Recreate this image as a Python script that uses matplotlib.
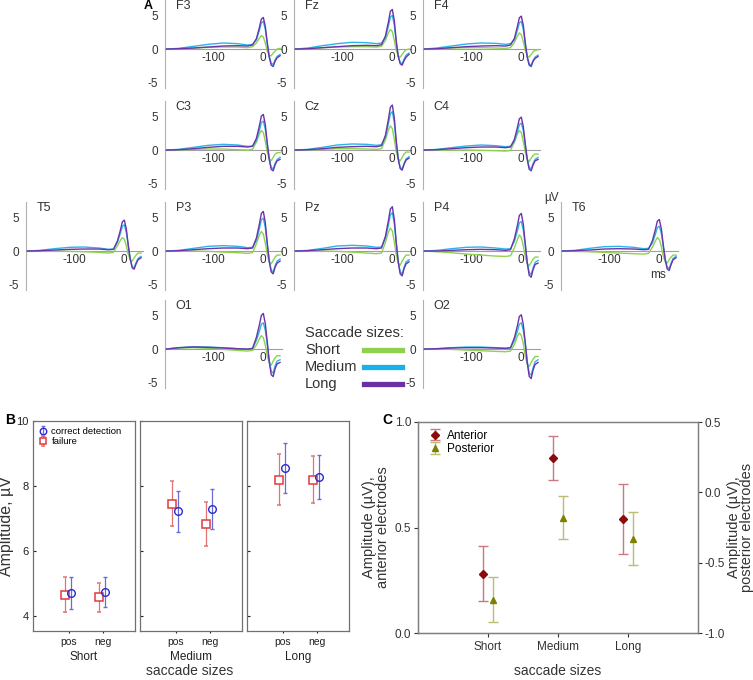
import matplotlib
matplotlib.use('Agg')
import matplotlib.pyplot as plt

plt.rcParams['font.family'] = ['Liberation Sans', 'DejaVu Sans']

# ---------------- Panel A data (µV) ----------------
time_ms = [-195, -170, -140, -110, -80, -50, -30, -20, -12, -6, -2, 2, 6, 10, 14, 18, 22, 26, 30, 36]

F3_short = [0, 0.05, 0.15, 0.25, 0.3, 0.3, 0.2, 0.35, 0.9, 1.6, 2.0, 1.8, 0.9, -0.3, -1.0, -1.0, -0.6, -0.3, 0.0, 0.1]
F3_medium = [0, 0.1, 0.4, 0.7, 0.9, 0.8, 0.6, 0.7, 1.35, 2.8, 3.9, 4.1, 2.95, 0.8, -1.05, -2.1, -2.3, -1.6, -1.1, -0.8]
F3_long = [0, 0.05, 0.15, 0.3, 0.45, 0.5, 0.45, 0.6, 1.55, 3.2, 4.45, 4.7, 3.4, 0.95, -1.2, -2.4, -2.6, -1.8, -1.3, -1.0]

Fz_short = [0, 0.05, 0.2, 0.3, 0.35, 0.35, 0.3, 0.4, 1.3, 2.4, 2.9, 2.6, 1.3, -0.2, -1.0, -1.2, -0.8, -0.4, -0.1, 0.0]
Fz_medium = [0, 0.15, 0.5, 0.8, 1.0, 0.95, 0.8, 0.9, 1.65, 3.4, 4.75, 5.0, 3.6, 1.0, -1.0, -2.0, -2.2, -1.5, -0.9, -0.6]
Fz_long = [0, 0.05, 0.2, 0.35, 0.5, 0.55, 0.5, 0.65, 1.95, 4.0, 5.6, 5.9, 4.25, 1.2, -1.1, -2.2, -2.4, -1.7, -1.2, -0.8]

F4_short = [0, 0.05, 0.15, 0.2, 0.2, 0.15, 0.1, 0.2, 1.0, 1.95, 2.4, 2.15, 1.1, -0.2, -1.0, -1.2, -0.8, -0.4, -0.2, -0.1]
F4_medium = [0, 0.15, 0.45, 0.75, 0.9, 0.85, 0.7, 0.8, 1.35, 2.8, 3.9, 4.1, 2.95, 0.8, -1.1, -2.2, -2.4, -1.7, -1.2, -0.9]
F4_long = [0, 0.05, 0.2, 0.35, 0.45, 0.5, 0.45, 0.6, 1.6, 3.35, 4.65, 4.9, 3.55, 1.0, -1.2, -2.4, -2.6, -1.8, -1.4, -1.1]

C3_short = [0, 0.05, 0.1, 0.15, 0.15, 0.05, 0.0, 0.1, 1.2, 2.4, 2.9, 2.6, 1.3, -0.3, -1.3, -1.6, -1.1, -0.6, -0.4, -0.4]
C3_medium = [0, 0.1, 0.4, 0.7, 0.85, 0.75, 0.55, 0.6, 1.4, 2.9, 4.1, 4.3, 3.1, 0.85, -1.25, -2.6, -2.8, -2.0, -1.4, -1.1]
C3_long = [0, 0.05, 0.2, 0.4, 0.55, 0.55, 0.45, 0.55, 1.75, 3.6, 5.05, 5.3, 3.8, 1.05, -1.4, -2.85, -3.1, -2.2, -1.6, -1.4]

Cz_short = [0, 0.05, 0.1, 0.2, 0.2, 0.15, 0.1, 0.2, 1.5, 3.0, 3.6, 3.2, 1.6, -0.3, -1.3, -1.6, -1.1, -0.6, -0.3, -0.3]
Cz_medium = [0, 0.1, 0.4, 0.75, 0.9, 0.85, 0.7, 0.8, 1.9, 3.9, 5.4, 5.7, 4.1, 1.15, -1.25, -2.6, -2.8, -2.0, -1.3, -1.0]
Cz_long = [0, 0.05, 0.2, 0.4, 0.5, 0.55, 0.5, 0.65, 2.2, 4.55, 6.35, 6.7, 4.8, 1.35, -1.35, -2.75, -3.0, -2.1, -1.5, -1.2]

C4_short = [0, 0.0, 0.0, 0.0, -0.05, -0.1, -0.15, -0.05, 1.2, 2.4, 2.9, 2.6, 1.3, -0.3, -1.4, -1.7, -1.2, -0.8, -0.6, -0.6]
C4_medium = [0, 0.1, 0.35, 0.6, 0.75, 0.65, 0.5, 0.55, 1.3, 2.7, 3.8, 4.0, 2.9, 0.8, -1.25, -2.6, -2.8, -2.0, -1.4, -1.1]
C4_long = [0, 0.05, 0.2, 0.35, 0.45, 0.45, 0.35, 0.45, 1.6, 3.35, 4.65, 4.9, 3.5, 0.95, -1.4, -2.85, -3.1, -2.2, -1.6, -1.4]

T5_short = [0, 0.0, 0.0, -0.05, -0.1, -0.2, -0.3, -0.2, 0.8, 1.6, 2.0, 1.75, 0.8, -0.5, -1.3, -1.5, -1.0, -0.6, -0.3, -0.3]
T5_medium = [0, 0.1, 0.35, 0.55, 0.6, 0.45, 0.25, 0.3, 1.3, 2.65, 3.7, 3.9, 2.8, 0.8, -1.1, -2.3, -2.5, -1.7, -1.1, -0.8]
T5_long = [0, 0.05, 0.15, 0.25, 0.3, 0.3, 0.2, 0.25, 1.5, 3.1, 4.35, 4.6, 3.3, 0.9, -1.2, -2.5, -2.7, -1.9, -1.3, -1.0]

P3_short = [0, 0.0, 0.0, -0.05, -0.15, -0.25, -0.35, -0.25, 1.1, 2.4, 2.9, 2.55, 1.2, -0.5, -1.6, -1.9, -1.4, -0.9, -0.6, -0.6]
P3_medium = [0, 0.1, 0.4, 0.7, 0.8, 0.7, 0.5, 0.55, 1.6, 3.3, 4.65, 4.9, 3.5, 1.0, -1.4, -2.85, -3.1, -2.2, -1.5, -1.2]
P3_long = [0, 0.05, 0.2, 0.35, 0.45, 0.45, 0.35, 0.45, 1.95, 4.0, 5.6, 5.9, 4.25, 1.2, -1.5, -3.1, -3.4, -2.4, -1.8, -1.5]

Pz_short = [0, 0.0, 0.0, -0.05, -0.15, -0.3, -0.4, -0.3, 1.3, 2.8, 3.4, 3.0, 1.4, -0.5, -1.8, -2.1, -1.5, -1.0, -0.6, -0.6]
Pz_medium = [0, 0.1, 0.4, 0.75, 0.85, 0.75, 0.55, 0.6, 1.9, 3.85, 5.4, 5.7, 4.1, 1.15, -1.5, -3.1, -3.4, -2.4, -1.6, -1.3]
Pz_long = [0, 0.05, 0.2, 0.35, 0.45, 0.45, 0.35, 0.45, 2.2, 4.5, 6.25, 6.6, 4.75, 1.3, -1.65, -3.4, -3.7, -2.6, -1.9, -1.6]

P4_short = [0, -0.1, -0.25, -0.45, -0.6, -0.75, -0.8, -0.7, 0.5, 1.7, 2.4, 2.0, 0.8, -0.8, -1.9, -2.2, -1.7, -1.2, -0.9, -0.9]
P4_medium = [0, 0.1, 0.35, 0.55, 0.6, 0.45, 0.3, 0.35, 1.45, 3.0, 4.2, 4.4, 3.15, 0.9, -1.6, -3.2, -3.5, -2.5, -1.7, -1.4]
P4_long = [0, 0.0, 0.1, 0.2, 0.25, 0.2, 0.1, 0.2, 1.85, 3.8, 5.3, 5.6, 4.0, 1.1, -1.75, -3.6, -3.9, -2.75, -2.0, -1.8]

T6_short = [0, -0.05, -0.1, -0.2, -0.3, -0.4, -0.45, -0.35, 0.6, 1.5, 2.0, 1.7, 0.7, -0.7, -1.6, -1.8, -1.3, -0.9, -0.6, -0.6]
T6_medium = [0, 0.1, 0.4, 0.65, 0.7, 0.55, 0.35, 0.4, 1.2, 2.5, 3.5, 3.7, 2.65, 0.75, -1.15, -2.4, -2.6, -1.8, -1.1, -0.8]
T6_long = [0, 0.05, 0.15, 0.3, 0.35, 0.3, 0.2, 0.25, 1.55, 3.2, 4.45, 4.7, 3.35, 0.95, -1.3, -2.65, -2.9, -2.0, -1.3, -1.0]

O1_short = [0, 0.15, 0.2, 0.1, -0.05, -0.2, -0.3, -0.2, 0.6, 1.5, 2.0, 1.7, 0.6, -1.0, -2.1, -2.4, -1.8, -1.3, -1.0, -1.0]
O1_medium = [0, 0.2, 0.35, 0.3, 0.2, 0.05, -0.05, 0.05, 1.3, 2.65, 3.7, 3.9, 2.8, 0.75, -1.65, -3.3, -3.6, -2.5, -1.8, -1.6]
O1_long = [0, 0.2, 0.3, 0.25, 0.15, 0.05, 0.0, 0.1, 1.75, 3.6, 5.0, 5.3, 3.8, 1.05, -1.85, -3.8, -4.1, -2.9, -2.2, -2.0]

O2_short = [0, 0.0, -0.05, -0.15, -0.25, -0.35, -0.4, -0.3, 0.7, 1.9, 2.4, 2.0, 0.8, -1.0, -2.3, -2.6, -2.0, -1.5, -1.1, -1.1]
O2_medium = [0, 0.05, 0.2, 0.3, 0.3, 0.2, 0.1, 0.15, 1.3, 2.65, 3.7, 3.9, 2.8, 0.75, -1.75, -3.6, -3.9, -2.75, -1.9, -1.6]
O2_long = [0, 0.05, 0.15, 0.2, 0.2, 0.15, 0.1, 0.2, 1.7, 3.45, 4.85, 5.1, 3.65, 1.0, -2.0, -4.05, -4.4, -3.1, -2.3, -2.0]

electrodes = ['F3', 'Fz', 'F4', 'C3', 'Cz', 'C4', 'T5', 'P3', 'Pz', 'P4', 'T6', 'O1', 'O2']
size_names = ['Short', 'Medium', 'Long']

# ---------------- Panel B data ----------------
b_sizes = ['Short', 'Medium', 'Long']
b_conditions = ['pos', 'neg']
correct_mean_short = [4.71, 4.74]
correct_err_short = [0.49, 0.47]
failure_mean_short = [4.65, 4.58]
failure_err_short = [0.54, 0.45]
correct_mean_medium = [7.23, 7.29]
correct_err_medium = [0.63, 0.61]
failure_mean_medium = [7.45, 6.83]
failure_err_medium = [0.69, 0.67]
correct_mean_long = [8.55, 8.27]
correct_err_long = [0.78, 0.68]
failure_mean_long = [8.20, 8.20]
failure_err_long = [0.78, 0.72]

# ---------------- Panel C data ----------------
c_sizes = ['Short', 'Medium', 'Long']
anterior_mean = [0.28, 0.83, 0.54]
anterior_err = [0.13, 0.105, 0.165]
posterior_mean = [-0.765, -0.18, -0.33]
posterior_err = [0.16, 0.155, 0.19]

# ---------------- figure ----------------
W, H = 753, 680
fig = plt.figure(figsize=(W / 100, H / 100), dpi=100)


def box(x0, y0, x1, y1):
    return [x0 / W, 1 - y1 / H, (x1 - x0) / W, (y1 - y0) / H]


wave_colors = ['#8fd14f', '#2ab4ea', '#6b34a8']
legend_colors = ['#8fd14f', '#1ab0e8', '#6a2fa0']
txt_gray = '#333333'

col_x = [26, 165, 294, 423, 561]
row_top = [0, 101, 202, 300]
placement = {'F3': (1, 0), 'Fz': (2, 0), 'F4': (3, 0), 'C3': (1, 1), 'Cz': (2, 1), 'C4': (3, 1),
             'T5': (0, 2), 'P3': (1, 2), 'Pz': (2, 2), 'P4': (3, 2), 'T6': (4, 2), 'O1': (1, 3), 'O2': (3, 3)}
g = globals()
for name in electrodes:
    c, r = placement[name]
    ax = fig.add_axes(box(col_x[c], row_top[r], col_x[c] + 117, row_top[r] + 88))
    ax.set_xlim(-198, 40)
    ax.set_ylim(-5.8, 7.3)
    for k, sname in enumerate(size_names):
        vals = g[f'{name}_{sname.lower()}']
        ax.plot(time_ms, vals, color=wave_colors[k], lw=1.0, zorder=3 + k)
    for s in ['top', 'right']:
        ax.spines[s].set_visible(False)
    ax.spines['left'].set_color('#b0b0b0')
    ax.spines['left'].set_linewidth(0.8)
    ax.spines['bottom'].set_position(('data', 0))
    ax.spines['bottom'].set_color('#a0a0a0')
    ax.spines['bottom'].set_linewidth(0.8)
    ax.set_yticks([-5, 0, 5])
    ax.set_yticklabels(['-5', '0', '5'])
    ax.set_xticks([-100, 0])
    ax.set_xticklabels(['-100', '0'])
    ax.tick_params(axis='both', length=0, labelsize=8.5, colors=txt_gray)
    ax.tick_params(axis='y', pad=5)
    ax.tick_params(axis='x', pad=2)
    ax.patch.set_alpha(0)
    ax.text(0.09, 0.995, name, transform=ax.transAxes, fontsize=9, color=txt_gray, va='top', ha='left')
    if name == 'T6':
        ax.text(-0.02, 1.04, 'µV', transform=ax.transAxes, fontsize=8.5, color=txt_gray, ha='right', va='center')
        ax.text(0, -2.7, 'ms', fontsize=8.5, color=txt_gray, ha='center', va='top')

fig.text(144 / W, 1 - 6 / H, 'A', fontsize=9, fontweight='bold', va='center', ha='left')

# Legend for A
fig.text(305 / W, 1 - 333 / H, 'Saccade sizes:', fontsize=10.5, color=txt_gray, va='center', ha='left')
for k, sname in enumerate(size_names):
    yy = 1 - (350 + 17 * k) / H
    fig.text(305 / W, yy, sname, fontsize=10.5, color=txt_gray, va='center', ha='left')
    fig.add_artist(plt.Line2D([364 / W, 402 / W], [yy, yy], color=legend_colors[k], lw=3.8,
                              transform=fig.transFigure))

# ---------------- Panel B ----------------
red_m = '#e0393e'
red_e = '#e07474'
blue_m = '#2a2ad0'
blue_e = '#6a6ad8'
frame_c = '#707070'
b_x0 = [33, 140, 247]
b_data = [(correct_mean_short, correct_err_short, failure_mean_short, failure_err_short),
          (correct_mean_medium, correct_err_medium, failure_mean_medium, failure_err_medium),
          (correct_mean_long, correct_err_long, failure_mean_long, failure_err_long)]
for i, sname in enumerate(b_sizes):
    ax = fig.add_axes(box(b_x0[i], 421, b_x0[i] + 102, 631))
    ax.set_xlim(-0.05, 2.95)
    ax.set_ylim(3.54, 10)
    cm, ce, fm, fe = b_data[i]
    xs = [1, 2]
    ax.errorbar([x - 0.1 for x in xs], fm, yerr=fe, fmt='s', ms=5.2, mfc='white', mec=red_m, mew=1.1,
                ecolor=red_e, elinewidth=0.9, capsize=1.6, capthick=0.9, label='failure', zorder=3)
    ax.errorbar([x + 0.06 for x in xs], cm, yerr=ce, fmt='o', ms=5.5, mfc='none', mec=blue_m, mew=1.0,
                ecolor=blue_e, elinewidth=0.9, capsize=1.6, capthick=0.9, label='correct detection', zorder=4)
    for s in ax.spines.values():
        s.set_color(frame_c)
        s.set_linewidth(0.9)
    ax.set_xticks(xs)
    ax.set_xticklabels(b_conditions)
    ax.set_yticks([4, 6, 8, 10])
    ax.tick_params(axis='x', length=1.5, labelsize=7.5, colors='#222222', direction='out', pad=3)
    ax.tick_params(axis='y', length=2, direction='in', labelsize=8, colors='#222222', pad=3)
    ax.set_xlabel(sname, fontsize=8.5, color='#222222', labelpad=3)
    if i == 0:
        ax.set_ylabel('Amplitude, µV', fontsize=11.5, color='#333333', labelpad=2)
        h, l = ax.get_legend_handles_labels()
        ax.legend(h[::-1], l[::-1], loc='upper left', frameon=False, fontsize=6.8, handlelength=0.9,
                  handletextpad=0.4, borderaxespad=0.25, labelspacing=0.1, markerscale=0.85,
                  bbox_to_anchor=(0.0, 1.0))
    else:
        ax.set_yticklabels([])

fig.text(190 / W, 1 - 671 / H, 'saccade sizes', fontsize=10, color='#333333', ha='center', va='center')
fig.text(5 / W, 1 - 420 / H, 'B', fontsize=10, fontweight='bold', ha='left', va='center')

# ---------------- Panel C ----------------
ant_m = '#8b0a0a'
ant_e = '#c87a80'
post_m = '#7d8000'
post_e = '#bcbc72'
axc = fig.add_axes(box(418, 422, 698, 633))
axc.set_xlim(0, 4)
axc.set_ylim(0, 1)
axc2 = axc.twinx()
axc2.set_ylim(-1, 0.5)
xc = [1, 2, 3]
axc.errorbar([x - 0.07 for x in xc], anterior_mean, yerr=anterior_err, fmt='D', ms=4, color=ant_m,
             ecolor=ant_e, elinewidth=1.0, capsize=3.5, capthick=1.0, label='Anterior', zorder=3)
axc2.errorbar([x + 0.07 for x in xc], posterior_mean, yerr=posterior_err, fmt='^', ms=5, color=post_m,
              ecolor=post_e, elinewidth=1.0, capsize=3.5, capthick=1.0, label='Posterior', zorder=3)
for a in (axc, axc2):
    for s in a.spines.values():
        s.set_color('#808080')
        s.set_linewidth(0.9)
    a.tick_params(length=3, labelsize=8.5, colors='#333333', pad=2)
axc.spines['left'].set_color('#606060')
axc.spines['bottom'].set_color('#606060')
axc.set_xticks(xc)
axc.set_xticklabels(c_sizes)
axc.set_yticks([0.0, 0.5, 1.0])
axc.set_yticklabels(['0.0', '0.5', '1.0'])
axc2.set_yticks([-1.0, -0.5, 0.0, 0.5])
axc2.set_yticklabels(['-1.0', '-0.5', '0.0', '0.5'])
axc.tick_params(axis='x', pad=3)
axc.set_ylabel('Amplitude (µV),\nanterior electrodes', fontsize=10.5, color='#333333', labelpad=3,
               linespacing=1.0)
axc2.set_ylabel('Amplitude (µV),\nposterior electrodes', fontsize=10.5, color='#333333', labelpad=1,
                linespacing=0.95)
h1, l1 = axc.get_legend_handles_labels()
h2, l2 = axc2.get_legend_handles_labels()
axc.legend(h1 + h2, l1 + l2, loc='upper left', frameon=False, fontsize=8.5, handlelength=1.5,
           handletextpad=0.3, borderaxespad=0.25, labelspacing=0.1)
fig.text(558 / W, 1 - 671 / H, 'saccade sizes', fontsize=10, color='#333333', ha='center', va='center')
fig.text(392 / W, 1 - 420 / H, 'C', fontsize=10, fontweight='bold', ha='right', va='center')

fig.savefig('out.png', dpi=100)
